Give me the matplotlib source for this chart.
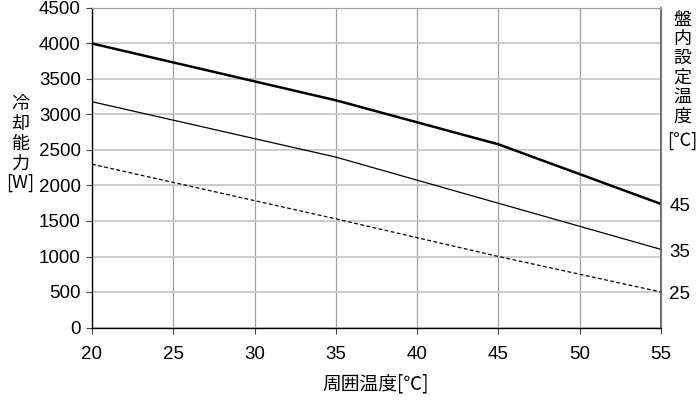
import matplotlib
matplotlib.use("Agg")
import matplotlib.pyplot as plt

plt.rcParams["font.family"] = ["Liberation Sans", "Noto Sans CJK JP", "DejaVu Sans"]

# ambient temperature [C]
ambient = [20, 35, 45, 55]
# cooling capacity [W] per panel set temperature
cap_45 = [4000, 3200, 2580, 1740]
cap_35 = [3180, 2400, 1750, 1100]
cap_25 = [2300, 1530, 1000, 500]
set_labels = ["45", "35", "25"]

x_ticks = [20, 25, 30, 35, 40, 45, 50, 55]
y_ticks = [0, 500, 1000, 1500, 2000, 2500, 3000, 3500, 4000, 4500]

JP = ["Noto Sans CJK JP", "DejaVu Sans"]

fig = plt.figure(figsize=(7, 4), dpi=100)
ax = fig.add_axes([92 / 700, 1 - 327.5 / 400, (661 - 92) / 700, (327.5 - 8) / 400])

ax.plot(ambient, cap_45, color="black", linewidth=1.8, solid_joinstyle="miter")
ax.plot(ambient, cap_35, color="black", linewidth=0.9)
ax.plot(ambient, cap_25, color="black", linewidth=0.9, linestyle=(0, (3, 2)))

ax.set_xlim(20, 55)
ax.set_ylim(0, 4500)
ax.set_xticks(x_ticks)
ax.set_yticks(y_ticks)
ax.tick_params(labelsize=13.5, length=4, width=0.8, color="#444444", pad=4)
ax.tick_params(axis="x", pad=9)

ax.xaxis.grid(True, color="#a0a0a0", linewidth=0.9)
ax.yaxis.grid(True, color="#c8c8c8", linewidth=1.3)
ax.set_axisbelow(True)

for side in ["left", "bottom"]:
    ax.spines[side].set_color("black")
    ax.spines[side].set_linewidth(1.0)
ax.spines["right"].set_color("#555555")
ax.spines["right"].set_linewidth(1.2)
ax.spines["top"].set_color("#a0a0a0")
ax.spines["top"].set_linewidth(0.9)

# set-temperature labels at line ends
for vals, lab in zip([cap_45, cap_35, cap_25], set_labels):
    ax.annotate(lab, xy=(ambient[-1], vals[-1]), xytext=(6, -2), textcoords="offset points",
                ha="left", va="center", fontsize=13.5, annotation_clip=False)

# left axis label, stacked characters
fig.text(20 / 700, 1 - 134 / 400, "冷\n却\n能\n力", family=JP, fontsize=13,
         ha="center", va="center", linespacing=1.12)
fig.text(20 / 700, 1 - 183 / 400, "[W]", family=JP, fontsize=13, ha="center", va="center")

# right axis label, stacked characters
fig.text(682 / 700, 1 - 68 / 400, "盤\n内\n設\n定\n温\n度", family=JP, fontsize=13,
         ha="center", va="center", linespacing=1.1)
fig.text(682 / 700, 1 - 141 / 400, "[℃]", family=JP, fontsize=13, ha="center", va="center")

fig.text(376 / 700, 1 - 384 / 400, "周囲温度[℃]", family=JP, fontsize=13.5, ha="center", va="center")

fig.savefig("out.png", dpi=100)
